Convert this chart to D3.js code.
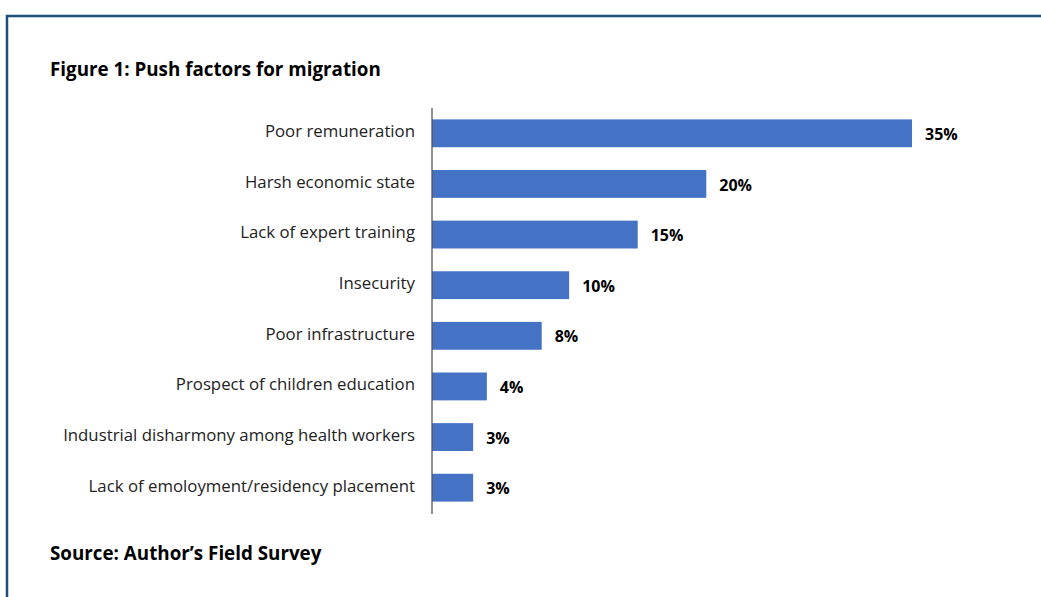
<!DOCTYPE html>
<html>
<head>
<meta charset="utf-8">
<script src="https://cdn.jsdelivr.net/npm/d3@7"></script>
<style>
  body { margin: 0; background: #fff; font-family: "Open Sans", sans-serif; }
</style>
</head>
<body>
<div id="chart"></div>
<script>
// data
var categories = [
  "Poor remuneration",
  "Harsh economic state",
  "Lack of expert training",
  "Insecurity",
  "Poor infrastructure",
  "Prospect of children education",
  "Industrial disharmony among health workers",
  "Lack of emoloyment/residency placement"
];
var values = [35, 20, 15, 10, 8, 4, 3, 3];

var W = 1041, H = 597;
var svg = d3.select("#chart")
  .append("svg")
    .attr("width", W)
    .attr("height", H);

// frame
svg.append("path")
  .attr("d", "M7,610 L7,16 L1060,16")
  .attr("fill", "none")
  .attr("stroke", "#1f4e79")
  .attr("stroke-width", 2.5);

svg.append("text")
  .attr("x", 50).attr("y", 76)
  .style("font-size", "18.8px").style("font-weight", "bold")
  .text("Figure 1: Push factors for migration");

svg.append("text")
  .attr("x", 50).attr("y", 560)
  .style("font-size", "18.8px").style("font-weight", "bold")
  .text("Source: Author\u2019s Field Survey");

var x = d3.scaleLinear()
  .domain([0, 35])
  .range([432, 912]);

var y = d3.scaleBand()
  .domain(categories)
  .range([108, 513])
  .paddingInner(0.45)
  .paddingOuter(0.225);

// bars
svg.selectAll("rect.bar")
  .data(categories)
  .enter()
  .append("rect")
    .attr("class", "bar")
    .attr("x", x(0))
    .attr("y", function(d) { return y(d); })
    .attr("width", function(d, i) { return x(values[i]) - x(0); })
    .attr("height", y.bandwidth())
    .attr("fill", "#4472c4");

// axis line
svg.append("line")
  .attr("x1", x(0)).attr("x2", x(0))
  .attr("y1", 108).attr("y2", 514)
  .attr("stroke", "#555").attr("stroke-width", 1.3);

// category labels
svg.selectAll("text.cat")
  .data(categories)
  .enter()
  .append("text")
    .attr("class", "cat")
    .attr("x", 415)
    .attr("y", function(d) { return y(d) + y.bandwidth() / 2 - 2; })
    .attr("dy", "0.35em")
    .attr("text-anchor", "end")
    .style("font-size", "16.8px")
    .style("fill", "#222")
    .text(function(d) { return d; });

// value labels
svg.selectAll("text.val")
  .data(categories)
  .enter()
  .append("text")
    .attr("class", "val")
    .attr("x", function(d, i) { return x(values[i]) + 13; })
    .attr("y", function(d) { return y(d) + y.bandwidth() / 2 + 1; })
    .attr("dy", "0.35em")
    .style("font-size", "16px")
    .style("font-weight", "bold")
    .text(function(d, i) { return values[i] + "%"; });
</script>
</body>
</html>
